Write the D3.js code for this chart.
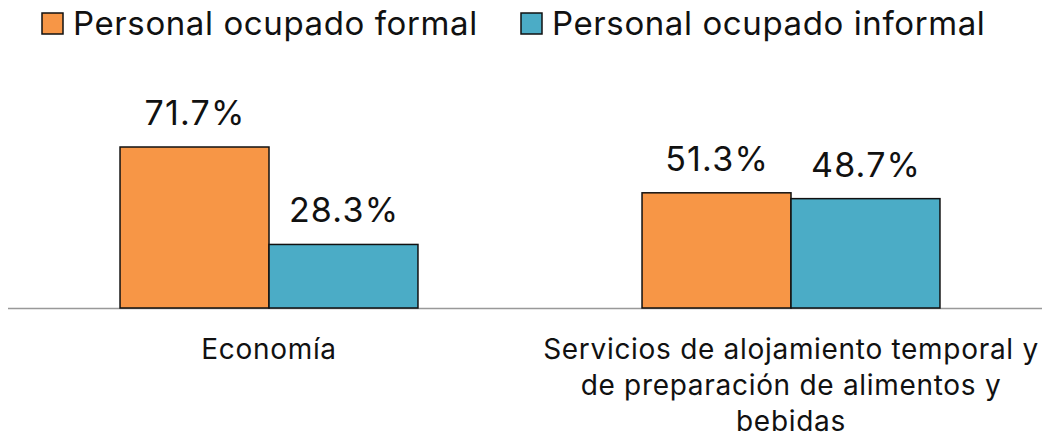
<!DOCTYPE html>
<html>
<head>
<meta charset="utf-8">
<script src="https://cdn.jsdelivr.net/npm/d3@7"></script>
<style>
body { margin: 0; background: #fff; }
svg text { font-family: Inter, "Noto Sans", sans-serif; fill: #111; }
</style>
</head>
<body>
<svg width="1042" height="442"></svg>
<script>
const categories = ['Economía', 'Servicios de alojamiento temporal y de preparación de alimentos y bebidas']
const categoryLines = [['Economía'], ['Servicios de alojamiento temporal y', 'de preparación de alimentos y', 'bebidas']]
const series = ['Personal ocupado formal', 'Personal ocupado informal']
const formal = [71.7, 51.3]
const informal = [28.3, 48.7]
const colors = ['#f79646', '#4bacc6']

const svg = d3.select('svg')
const baseY = 308
const x0 = d3.scaleBand().domain(categories).range([8, 1052])
const x1 = d3.scaleBand().domain(series).range([0, x0.bandwidth()]).paddingOuter(0.752)
const y = d3.scaleLinear().domain([0, 71.7]).range([baseY, 147])

let rows = categories.map((c, i) => ({cat: c, values: [formal[i], informal[i]]}))

// baseline
svg.append('line')
    .attr('x1', 8).attr('x2', 1042)
    .attr('y1', baseY + 0.5).attr('y2', baseY + 0.5)
    .attr('stroke', '#999').attr('stroke-width', 1.5)

let groups = svg.selectAll('.grp')
    .data(rows)
    .enter()
    .append('g')
    .attr('class', 'grp')
    .attr('transform', d => 'translate(' + x0(d.cat) + ',0)')

groups.selectAll('rect')
    .data(d => d.values.map((v, j) => ({s: series[j], v: v, j: j})))
    .enter()
    .append('rect')
    .attr('x', d => x1(d.s))
    .attr('y', d => y(d.v))
    .attr('width', x1.bandwidth())
    .attr('height', d => baseY - y(d.v))
    .attr('fill', d => colors[d.j])
    .attr('stroke', '#111')
    .attr('stroke-width', 1.5)

groups.selectAll('.val')
    .data(d => d.values.map((v, j) => ({s: series[j], v: v})))
    .enter()
    .append('text')
    .attr('class', 'val')
    .attr('x', d => x1(d.s) + x1.bandwidth() / 2 + 0.6)
    .attr('y', d => y(d.v) - 22)
    .attr('text-anchor', 'middle')
    .style('font-size', '34px')
    .style('letter-spacing', '1.2px')
    .text(d => d.v.toFixed(1) + '%')

// category labels
categories.forEach(function (c, i) {
    let t = svg.append('text')
	.attr('text-anchor', 'middle')
	.attr('y', 359)
	.style('font-size', '28px')
	.style('letter-spacing', '0.7px')
    categoryLines[i].forEach(function (line, k) {
	t.append('tspan')
	    .attr('x', x0(c) + x0.bandwidth() / 2)
	    .attr('dy', k == 0 ? 0 : 36)
	    .text(line)
    })
})

// legend
const legendX = [42, 521]
series.forEach(function (s, i) {
    svg.append('rect')
	.attr('x', legendX[i]).attr('y', 13)
	.attr('width', 21).attr('height', 21)
	.attr('fill', colors[i])
	.attr('stroke', '#111')
	.attr('stroke-width', 1.5)
    svg.append('text')
	.attr('x', legendX[i] + 31).attr('y', 35)
	.style('font-size', '33px')
	.style('letter-spacing', '0.6px')
	.text(s)
})
</script>
</body>
</html>
